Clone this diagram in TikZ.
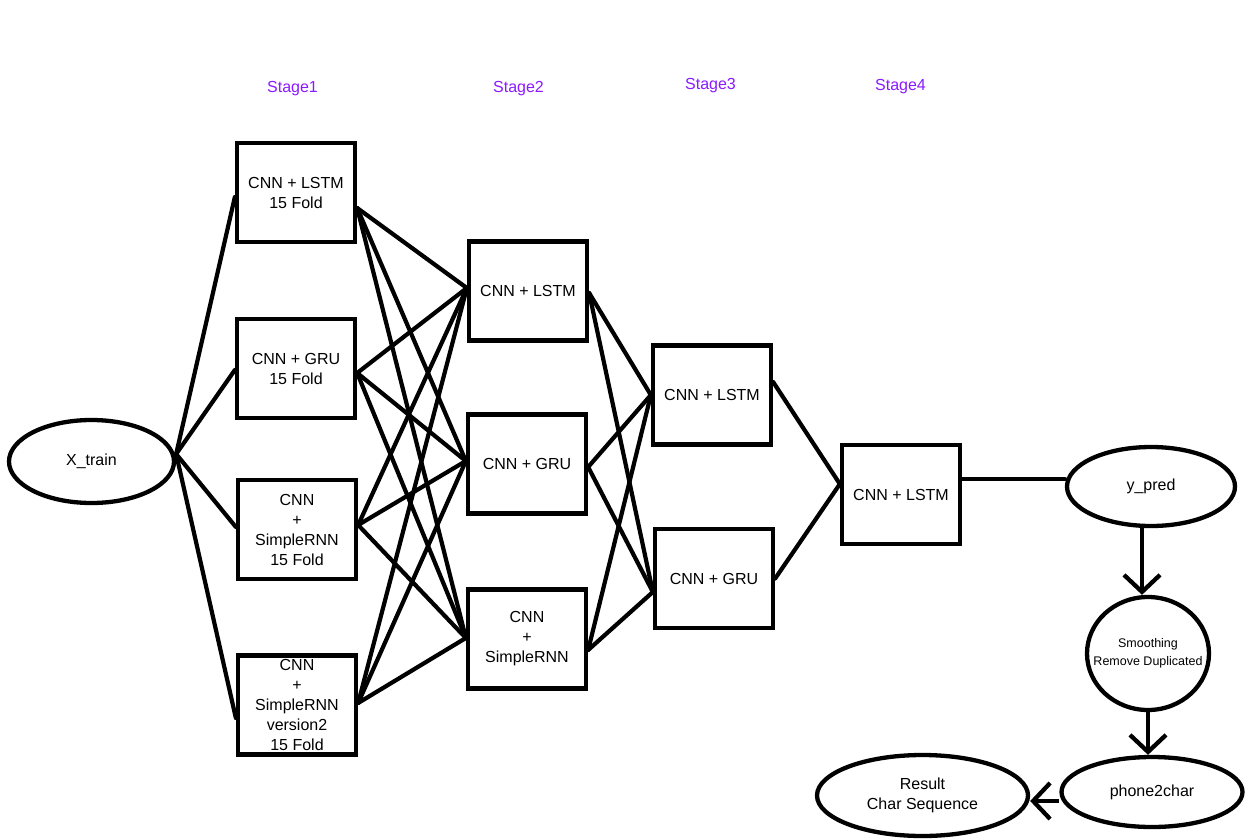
\documentclass[tikz,border=0pt]{standalone}
\usepackage{fontspec}
\setmainfont{Liberation Sans}
\usetikzlibrary{shapes.geometric,arrows.meta}
\definecolor{stagepurple}{RGB}{140,25,255}
\begin{document}
\begin{tikzpicture}[x=1pt,y=-1pt,
  txt/.style={font=\fontsize{16}{20}\selectfont},
  box/.style={draw,line width=4.3pt,minimum width=118pt,minimum height=99pt,inner sep=0pt,align=center,txt},
  oval/.style={draw,ellipse,line width=4.3pt,inner sep=0pt,align=center,txt},
  link/.style={line width=4.2pt,line cap=round},
  flow/.style={line width=4.3pt,-{Straight Barb[length=17pt,width=36pt]}},
  stage/.style={text=stagepurple,txt,inner sep=0pt}]
\useasboundingbox (0,0) rectangle (1260,840);

% stage labels
\node[stage] (st1) at (292.5,88.5) {Stage1};
\node[stage] (st2) at (518.5,88.5) {Stage2};
\node[stage] (st3) at (710.5,85.5) {Stage3};
\node[stage] (st4) at (900.5,86.5) {Stage4};

% input
\node[oval,minimum width=165pt,minimum height=83pt] (xt) at (91.5,461.5) {X\_train};

% stage 1
\node[box] (s1a) at (296,192.5) {CNN + LSTM\\15 Fold};
\node[box] (s1b) at (296,368.5) {CNN + GRU\\15 Fold};
\node[box] (s1c) at (297,529.5) {CNN\\+\\SimpleRNN\\15 Fold};
\node[box] (s1d) at (297,705) {CNN\\+\\SimpleRNN\\version2\\15 Fold};

% stage 2
\node[box] (s2a) at (528,291) {CNN + LSTM};
\node[box] (s2b) at (527,464) {CNN + GRU};
\node[box] (s2c) at (527,639) {CNN\\+\\SimpleRNN};

% stage 3
\node[box] (s3a) at (712,395) {CNN + LSTM};
\node[box] (s3b) at (714,578.5) {CNN + GRU};

% stage 4
\node[box] (s4) at (901,494.5) {CNN + LSTM};

% output chain
\node[oval,minimum width=168pt,minimum height=79pt] (yp) at (1151,486.5) {y\_pred};
\node[oval,minimum width=122pt,minimum height=113pt,
  label={[font=\fontsize{12.5}{17.5}\selectfont,align=center]center:Smoothing\\Remove Duplicated}] (sm) at (1148,653.5) {};
\node[oval,minimum width=181pt,minimum height=70pt] (pc) at (1152,792) {phone2char};
\node[oval,minimum width=211pt,minimum height=81pt] (res) at (922.5,795.5) {Result\\Char Sequence};

% connection points
\coordinate (xt-o) at ([yshift=7.5pt]xt.east);
\coordinate (s1a-i) at ([yshift=-4.5pt]s1a.west);
\coordinate (s1b-i) at ([yshift=-1.5pt]s1b.west);
\coordinate (s1c-i) at ([yshift=2.5pt]s1c.west);
\coordinate (s1d-i) at ([yshift=-13pt]s1d.west);
\coordinate (s1a-o) at ([yshift=-15.5pt]s1a.east);
\coordinate (s1b-o) at ([yshift=-4.5pt]s1b.east);
\coordinate (s1c-o) at ([yshift=4.5pt]s1c.east);
\coordinate (s1d-o) at ([yshift=2pt]s1d.east);
\coordinate (s2a-i) at ([yshift=3pt]s2a.west);
\coordinate (s2b-i) at ([yshift=3pt]s2b.west);
\coordinate (s2c-i) at ([yshift=1pt]s2c.west);
\coordinate (s2a-o) at ([yshift=-2pt]s2a.east);
\coordinate (s2b-o) at ([yshift=-3pt]s2b.east);
\coordinate (s2c-o) at ([yshift=-11pt]s2c.east);
\coordinate (s3a-i) at (s3a.west);
\coordinate (s3b-i) at ([yshift=-13.5pt]s3b.west);
\coordinate (s3a-o) at ([yshift=13pt]s3a.east);
\coordinate (s3b-o) at (s3b.east);
\coordinate (s4-i) at ([yshift=10.5pt]s4.west);
\coordinate (s4-o) at ([yshift=15.5pt]s4.east);
\coordinate (yp-i) at ([yshift=7.5pt]yp.west);

% links
\foreach \b in {s1a-i,s1b-i,s1c-i,s1d-i} \draw[link] (xt-o) -- (\b);
\foreach \a in {s1a-o,s1b-o,s1c-o,s1d-o}
  \foreach \b in {s2a-i,s2b-i,s2c-i} \draw[link] (\a) -- (\b);
\foreach \a in {s2a-o,s2b-o,s2c-o}
  \foreach \b in {s3a-i,s3b-i} \draw[link] (\a) -- (\b);
\foreach \a in {s3a-o,s3b-o} \draw[link] (\a) -- (s4-i);
\draw[link] (s4-o) -- (yp-i);

% arrows
\coordinate (a1) at ([xshift=-9pt]yp.south);
\draw[flow] (a1) -- (a1 |- sm.north);
\coordinate (a2) at (sm.south);
\draw[flow] (a2) -- (a2 |- pc.north);
\coordinate (a3) at ([yshift=-9pt]pc.west);
\draw[flow] (a3) -- (a3 -| res.east);
\end{tikzpicture}
\end{document}
